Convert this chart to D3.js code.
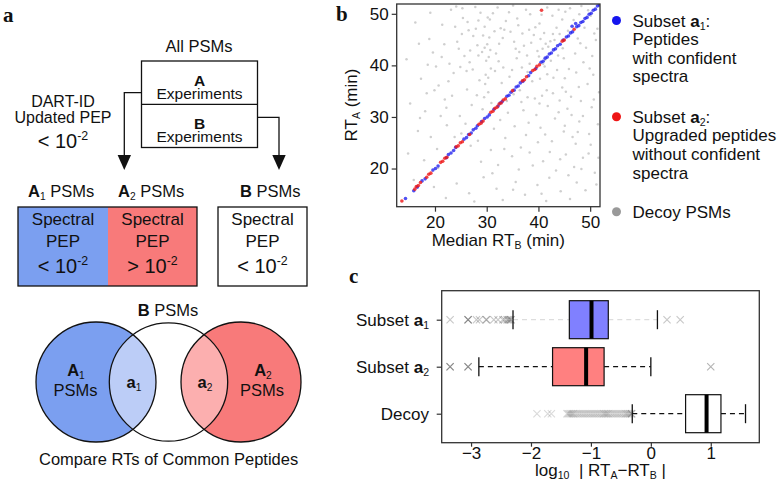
<!DOCTYPE html>
<html><head><meta charset="utf-8">
<script src="https://cdn.jsdelivr.net/npm/d3@7"></script>
<style>
body{margin:0;background:#fff}
svg{display:block}
text{font-family:"Liberation Sans",Arial,Helvetica,sans-serif;fill:#111;white-space:pre}
</style>
</head><body>
<svg id="chart" width="784" height="498"></svg>
<script>
// ---------------- DATA ----------------
// Panel b: scatter RT_A vs median RT_B (minutes)
const bDomain = [12.6, 51.9];
const bTicks = [20, 30, 40, 50];
const decoyPoints = [
 [23.1,50.8],[25.4,49.2],[27.8,51.3],[29.6,47.5],[31.2,50.1],[33.7,48.6],[35.1,51.6],[36.9,46.2],[38.4,49.9],[40.2,48.1],[41.7,51.2],[43.5,47.3],[45.2,50.4],[46.8,48.8],[48.3,51.5],[50.1,49.6],[51.4,47.1],
 [16.2,48.3],[18.9,45.1],[21.4,47.9],[24.3,44.6],[26.5,46.8],[28.2,43.9],[30.5,45.4],[32.4,44.2],[34.6,46.5],[37.2,43.8],[39.1,45.9],[42.3,44.7],[44.1,46.1],[47.6,45.2],[49.2,43.4],[51.1,44.9],
 [14.5,41.2],[19.6,42.5],[22.8,40.3],[25.7,41.8],[27.3,39.2],[29.9,40.9],[31.8,42.3],[33.2,39.6],[35.8,41.4],[37.9,38.7],[41.2,39.8],[43.8,41.9],[45.9,39.3],[48.7,40.6],[50.6,38.2],
 [17.3,37.4],[20.7,36.1],[23.6,38.5],[26.2,35.3],[28.6,37.1],[30.3,34.8],[32.9,36.6],[36.4,35.2],[38.8,36.9],[40.7,34.1],[42.9,37.6],[44.6,35.7],[46.3,33.9],[49.5,36.4],[51.7,34.8],
 [15.2,32.6],[18.1,31.1],[21.9,33.4],[24.8,30.2],[27.1,32.3],[29.2,31.5],[34.1,30.8],[36.7,32.9],[39.6,30.4],[41.8,32.1],[43.2,29.7],[45.6,31.6],[47.9,29.1],[50.3,31.9],
 [16.7,27.3],[19.2,26.1],[22.3,28.4],[25.1,26.8],[26.9,24.4],[31.4,27.7],[33.6,25.9],[35.4,28.2],[37.6,26.5],[40.4,27.9],[42.6,25.3],[44.9,27.2],[47.2,24.8],[49.8,26.7],[51.5,28.6],
 [14.8,22.9],[17.9,21.6],[20.4,23.8],[28.9,21.3],[30.8,23.6],[32.2,20.7],[34.9,22.4],[36.2,19.8],[38.3,23.1],[40.9,21.4],[43.4,19.6],[45.3,22.7],[46.9,20.3],[48.6,22.1],[50.9,19.2],
 [15.9,17.8],[19.8,16.4],[24.2,17.1],[26.6,15.2],[29.4,18.3],[31.9,16.1],[35.6,17.4],[37.4,14.9],[39.8,16.8],[42.1,18.2],[44.3,15.6],[47.4,17.3],[49.1,15.8],[51.2,16.9],
 [22.1,14.3],[27.6,13.6],[33.1,13.9],[41.5,13.7],[46.1,14.1],
 [30.1,44.1],[30.4,41.6],[29.8,38.2],[41.1,46.3],[40.8,43.2],[41.3,41.1],[36.1,47.8],[38.6,44.4],[28.4,48.7],[34.3,50.3],[43.9,50.8],[47.1,42.3],[45.1,37.5],
 [24.6,43.2],[26.1,38.9],[23.3,34.1],[25.9,28.7],[33.9,33.1],[37.1,31.3],[39.3,33.6],[44.1,33.2],[48.2,33.1],[20.2,39.8],[21.1,30.2],[18.4,34.6],[46.6,26.1],[42.2,23.2],[38.9,20.6],
 [30.6,48.9],[29.7,36.4],[30.9,32.7],[40.3,37.4],[41.6,35.2],[39.9,25.1],[25.3,51.1],[21.8,44.1],[35.3,44.6],[37.8,41.9],[42.7,49.6],[48.9,47.3],[44.7,43.3],[46.4,30.4],[50.4,41.8],
 [32.7,47.2],[27.4,45.7],[23.9,47.5],[19.1,50.2],[36.8,39.6],[34.4,37.8],[28.1,34.2],[31.6,38.9],[26.8,42.9],[22.6,36.9],[43.6,39.1],[38.1,28.9],[32.6,29.4],[49.7,22.9],[45.8,18.7],
 [24.1,51.4],[26.3,48.4],[28.8,50.2],[30.2,49.3],[32.1,51.2],[33.4,46.9],[35.9,49.1],[37.6,50.8],[39.4,47.4],[40.6,49.8],[42.8,46.1],[44.6,48.9],[46.1,51.1],[47.9,49.9],[49.6,50.7],
 [25.2,46.1],[27.9,47.1],[29.3,45.8],[31.5,46.6],[33.1,45.3],[35.6,43.2],[38.2,46.9],[39.8,42.8],[41.9,43.6],[43.1,44.9],[45.7,46.7],[48.1,44.3],[50.8,46.2],
 [24.9,39.7],[26.7,40.6],[28.4,41.9],[30.8,39.4],[32.3,40.8],[34.9,39.1],[36.3,42.6],[38.3,40.3],[40.1,41.7],[42.4,40.9],[44.9,41.4],[47.3,38.6],[49.9,39.4],
 [29.1,42.6],[29.6,43.4],[30.7,43.0],[40.4,45.1],[41.4,44.2],[40.9,40.3],[30.3,37.6],[41.7,38.3],[29.5,33.8],[40.2,32.6],
 [35.2,34.4],[37.9,33.8],[42.8,34.6],[45.3,34.9],[47.8,35.8],[50.7,33.4],[43.9,30.9],[48.6,30.2],[45.1,28.3],[47.6,27.1],[50.1,24.6],[44.2,21.8],[41.3,26.6],[36.6,24.1],
 [18.6,40.1],[16.9,44.2],[21.3,41.6],[19.9,35.2],[22.2,31.8],[17.1,29.8],[23.8,26.1],[20.6,20.1],[28.3,25.4],[33.4,23.8],[31.1,19.1],[35.1,15.9],[40.6,15.1],[48.3,19.9],[51.6,22.1]
];
const a1Points = [
 [14.3,14.2],[15.9,15.7],[16.6,16.4],[17.5,17.6],[18.1,18.0],[19.6,19.7],[20.1,20.0],[20.6,20.5],[22.6,22.7],[23.1,23.0],[23.6,23.5],[24.0,24.1],
 [25.6,25.7],[26.1,26.0],[26.5,26.6],[27.0,26.9],[27.4,27.5],[27.9,27.8],[28.2,28.3],[29.6,29.7],[30.1,30.0],[30.5,30.4],[31.4,31.5],[32.2,32.1],
 [33.0,33.0],[33.9,34.0],[34.3,34.2],[34.7,34.8],[35.3,35.2],[35.7,35.8],[36.1,36.0],[36.5,36.6],[38.1,38.0],[38.5,38.6],[40.5,40.6],[40.9,40.8],
 [41.3,41.4],[41.7,41.6],[42.1,42.2],[42.5,42.4],[42.9,43.0],[43.3,43.2],[43.7,43.8],[44.2,44.1],[45.4,45.5],[45.8,45.7],[46.2,46.3],[46.6,46.5],
 [47.4,47.5],[47.8,47.7],[48.2,48.3],[48.6,48.5],[49.0,49.1],[49.4,49.3],[49.8,49.9],[50.2,50.1],[50.6,50.7],[51.0,50.9],[51.4,51.5],[51.8,51.7],
 [47.2,48.1],[46.5,47.6],[22.2,22.1],[29.0,29.1],[37.0,36.9],[39.5,39.4],[44.8,44.9],[32.6,32.7]
];
const a2Points = [
 [13.6,13.7],[16.1,16.0],[16.4,16.5],[16.8,16.7],[17.2,17.3],[18.4,18.3],[18.8,18.9],[19.2,19.1],[21.1,21.2],[21.5,21.4],[21.9,22.0],[22.3,22.2],
 [24.1,24.2],[24.5,24.4],[24.9,25.0],[25.3,25.2],[28.5,28.6],[28.9,28.8],[29.3,29.2],[30.8,30.9],[31.2,31.1],[31.6,31.7],[32.0,31.9],[32.4,32.5],
 [32.8,32.7],[33.2,33.3],[33.6,33.5],[36.9,37.0],[37.3,37.2],[37.7,37.8],[38.9,39.0],[39.3,39.2],[39.7,39.8],[40.2,40.1],[44.6,44.7],[45.0,44.9],
 [46.9,47.0],[40.6,50.7],[26.7,26.6],[35.0,35.1]
];

// Panel c: log10 |RT_A - RT_B| box plots
const cCategories = ["a1", "a2", "decoy"];
const cDomain = [-3.49, 1.81];
const cTicks = [-3, -2, -1, 0, 1];
const boxQ1 = [-1.36, -1.64, 0.58];
const boxMedian = [-0.99, -1.08, 0.93];
const boxQ3 = [-0.71, -0.78, 1.17];
const whiskerLow = [-2.30, -2.87, -0.31];
const whiskerHigh = [0.11, 0.00, 1.58];
const outliersA1 = [-3.35,-3.05,-3.05,-3.05,-2.91,-2.86,-2.75,-2.74,-2.62,-2.55,-2.47,-2.44,-2.40,-2.38,-2.36,-2.34,-2.33,0.27,0.49];
const outliersA2 = [-3.35,-3.35,-3.05,-3.05,1.00];
const outliersDecoy = [-1.90,-1.72,-1.66,-1.40,-1.38,-1.36,-1.34,-1.32,-1.30,-1.28,-1.25,-1.22,-1.19,-1.16,-1.13,-1.10,-1.07,-1.04,-1.01,
 -0.98,-0.95,-0.92,-0.89,-0.86,-0.83,-0.80,-0.78,-0.76,-0.74,-0.72,-0.70,-0.67,-0.64,-0.61,-0.58,-0.55,-0.52,-0.49,-0.46,-0.43,-0.41,-0.39,-0.37,-0.35,-0.33,-0.32,-0.32];

// ---------------- HELPERS ----------------
const svg = d3.select("#chart");
const FONT = '"Liberation Sans",Arial,Helvetica,sans-serif';

function rich(g, x, y, segs, size, anchor) {
  const t = g.append("text").attr("x", x).attr("y", y)
    .attr("text-anchor", anchor || "start").style("font-size", size + "px");
  let shift = 0;
  segs.forEach(s => {
    const sp = t.append("tspan").text(s.t);
    let target = 0, fs = size;
    if (s.sub) { target = size * 0.2; fs = size * 0.62; }
    if (s.sup) { target = -size * 0.38; fs = size * 0.62; }
    sp.attr("dy", target - shift); shift = target;
    sp.style("font-size", fs + "px");
    if (s.b) sp.style("font-weight", "bold");
  });
  return t;
}
function panelLabel(txt, x, y) {
  svg.append("text").attr("x", x).attr("y", y).text(txt)
    .style("font-family", '"Liberation Serif","Times New Roman",serif')
    .style("font-weight", "bold").style("font-size", "21px");
}

// ---------------- PANEL A (diagram) ----------------
const blueA = "#7b9ff0", redA = "#f87a7a", blueLens = "#bccdf7", redLens = "#fcafaf";
const A = svg.append("g");
panelLabel("a", 3, 22);
rich(A, 199, 52, [{t: "All PSMs"}], 16.5, "middle");
A.append("rect").attr("x", 141.5).attr("y", 61).attr("width", 116).attr("height", 86.5)
  .attr("fill", "none").attr("stroke", "#111").attr("stroke-width", 1.3);
A.append("line").attr("x1", 141.5).attr("x2", 257.5).attr("y1", 104.3).attr("y2", 104.3)
  .attr("stroke", "#111").attr("stroke-width", 1.3);
rich(A, 199.5, 85.5, [{t: "A", b: true}], 15.5, "middle");
rich(A, 199.5, 99, [{t: "Experiments"}], 15.5, "middle");
rich(A, 199.5, 128.5, [{t: "B", b: true}], 15.5, "middle");
rich(A, 199.5, 142, [{t: "Experiments"}], 15.5, "middle");
// arrows
A.append("path").attr("d", "M141.5,92.7H124.3V156").attr("fill", "none").attr("stroke", "#111").attr("stroke-width", 1.3);
A.append("path").attr("d", "M117.6,155L131,155L124.3,170Z").attr("fill", "#111");
A.append("path").attr("d", "M257.5,117.3H279V156").attr("fill", "none").attr("stroke", "#111").attr("stroke-width", 1.3);
A.append("path").attr("d", "M272.3,155L285.7,155L279,170Z").attr("fill", "#111");
rich(A, 63, 106.5, [{t: "DART-ID"}], 16, "middle");
rich(A, 63, 123.3, [{t: "Updated PEP"}], 16, "middle");
rich(A, 63, 148, [{t: "< 10"}, {t: "-2", sup: true}], 20, "middle");
// category labels
rich(A, 28, 196.5, [{t: "A", b: true}, {t: "1", sub: true}, {t: " PSMs"}], 16.5);
rich(A, 118, 196.5, [{t: "A", b: true}, {t: "2", sub: true}, {t: " PSMs"}], 16.5);
rich(A, 240, 196.5, [{t: "B", b: true}, {t: " PSMs"}], 16.5);
// PEP boxes
A.append("rect").attr("x", 18).attr("y", 207).attr("width", 90).attr("height", 79).attr("fill", blueA);
A.append("rect").attr("x", 108).attr("y", 207).attr("width", 89).attr("height", 79).attr("fill", redA);
A.append("rect").attr("x", 18).attr("y", 207).attr("width", 179).attr("height", 79)
  .attr("fill", "none").attr("stroke", "#111").attr("stroke-width", 1.3);
A.append("rect").attr("x", 218).attr("y", 207).attr("width", 89).attr("height", 79)
  .attr("fill", "none").attr("stroke", "#111").attr("stroke-width", 1.3);
[[63, "< 10"], [152.5, "> 10"], [262.5, "< 10"]].forEach(([cx, s]) => {
  rich(A, cx, 225, [{t: "Spectral"}], 17, "middle");
  rich(A, cx, 247, [{t: "PEP"}], 17, "middle");
  rich(A, cx, 273, [{t: s}, {t: "-2", sup: true}], 20, "middle");
});
// Venn
const vy = 382, vr = 60;
const defs = svg.append("defs");
defs.append("clipPath").attr("id", "clipBlue").append("circle").attr("cx", 96).attr("cy", vy).attr("r", vr);
defs.append("clipPath").attr("id", "clipRed").append("circle").attr("cx", 241).attr("cy", vy).attr("r", vr);
A.append("circle").attr("cx", 96).attr("cy", vy).attr("r", vr).attr("fill", blueA);
A.append("circle").attr("cx", 241).attr("cy", vy).attr("r", vr).attr("fill", redA);
A.append("circle").attr("cx", 168.5).attr("cy", vy).attr("r", 59.2).attr("fill", "#fff");
A.append("circle").attr("cx", 168.5).attr("cy", vy).attr("r", 59.2).attr("fill", blueLens).attr("clip-path", "url(#clipBlue)");
A.append("circle").attr("cx", 168.5).attr("cy", vy).attr("r", 59.2).attr("fill", redLens).attr("clip-path", "url(#clipRed)");
[[96, vr], [168.5, 59.2], [241, vr]].forEach(([cx, r]) => {
  A.append("circle").attr("cx", cx).attr("cy", vy).attr("r", r).attr("fill", "none").attr("stroke", "#111").attr("stroke-width", 1.3);
});
rich(A, 168, 316, [{t: "B", b: true}, {t: " PSMs"}], 16.5, "middle");
rich(A, 76, 376, [{t: "A", b: true}, {t: "1", sub: true}], 16.5, "middle");
rich(A, 75.5, 395.5, [{t: "PSMs"}], 16.5, "middle");
rich(A, 134, 388, [{t: "a", b: true}, {t: "1", sub: true}], 16.5, "middle");
rich(A, 205, 388, [{t: "a", b: true}, {t: "2", sub: true}], 16.5, "middle");
rich(A, 263, 376, [{t: "A", b: true}, {t: "2", sub: true}], 16.5, "middle");
rich(A, 262, 395.5, [{t: "PSMs"}], 16.5, "middle");
rich(A, 39, 465, [{t: "Compare RTs of Common Peptides"}], 16.5);

// ---------------- PANEL B (scatter) ----------------
panelLabel("b", 336, 21);
const bx = d3.scaleLinear().domain(bDomain).range([396.7, 600]);
const by = d3.scaleLinear().domain(bDomain).range([206.7, 4]);
const B = svg.append("g");
defs.append("clipPath").attr("id", "clipB").append("rect")
  .attr("x", 396.7).attr("y", 4).attr("width", 203.3).attr("height", 202.7);
const pts = B.append("g").attr("clip-path", "url(#clipB)");
pts.selectAll("circle.decoy").data(decoyPoints).join("circle").attr("class", "decoy")
  .attr("cx", d => bx(d[0])).attr("cy", d => by(d[1])).attr("r", 1.25)
  .attr("fill", "#888").attr("fill-opacity", 0.4);
pts.selectAll("circle.a1").data(a1Points).join("circle").attr("class", "a1")
  .attr("cx", d => bx(d[0])).attr("cy", d => by(d[1])).attr("r", 1.8)
  .attr("fill", "#1515ee").attr("fill-opacity", 0.75);
pts.selectAll("circle.a2").data(a2Points).join("circle").attr("class", "a2")
  .attr("cx", d => bx(d[0])).attr("cy", d => by(d[1])).attr("r", 1.8)
  .attr("fill", "#ee1515").attr("fill-opacity", 0.8);
B.append("rect").attr("x", 396.7).attr("y", 4).attr("width", 203.3).attr("height", 202.7)
  .attr("fill", "none").attr("stroke", "#333").attr("stroke-width", 1.3);
const bxAxis = B.append("g").attr("transform", "translate(0,206.7)")
  .call(d3.axisBottom(bx).tickValues(bTicks).tickSize(5).tickPadding(4));
const byAxis = B.append("g").attr("transform", "translate(396.7,0)")
  .call(d3.axisLeft(by).tickValues(bTicks).tickSize(5).tickPadding(3));
[bxAxis, byAxis].forEach(ax => {
  ax.select(".domain").remove();
  ax.selectAll("line").attr("stroke", "#333").attr("stroke-width", 1.2);
  ax.selectAll("text").style("font-size", "17px").style("font-family", FONT).attr("fill", "#111");
});
rich(B, 498.3, 246, [{t: "Median RT"}, {t: "B", sub: true}, {t: " (min)"}], 17, "middle");
rich(B, 0, 0, [{t: "RT"}, {t: "A", sub: true}, {t: " (min)"}], 17, "middle")
  .attr("transform", "translate(357,105) rotate(-90)");
// legend
const legend = [
  {color: "#1515ee", y: 20.5, lines: [[{t: "Subset "}, {t: "a", b: true}, {t: "1", sub: true}, {t: ":"}], [{t: "Peptides"}], [{t: "with confident"}], [{t: "spectra"}]]},
  {color: "#ee1515", y: 116.7, lines: [[{t: "Subset "}, {t: "a", b: true}, {t: "2", sub: true}, {t: ":"}], [{t: "Upgraded peptides"}], [{t: "without confident"}], [{t: "spectra"}]]},
  {color: "#999999", y: 211.7, lines: [[{t: "Decoy PSMs"}]]}
];
legend.forEach(it => {
  B.append("circle").attr("cx", 616.5).attr("cy", it.y).attr("r", 4.5).attr("fill", it.color);
  it.lines.forEach((ln, i) => rich(B, 632.5, it.y + 6 + i * 18.6, ln, 17));
});

// ---------------- PANEL C (box plots) ----------------
panelLabel("c", 349, 283);
const cx = d3.scaleLinear().domain(cDomain).range([441.7, 759.3]);
const cy = d3.scalePoint().domain(cCategories).range([290.7, 442.7]).padding(0.617);
const C = svg.append("g");
const boxH = 38, capH = 9.5;
const fills = ["#8080ff", "#ff8080", "#ffffff"];
const whiskColors = ["#dddddd", "#111", "#111"];
const outliers = [outliersA1, outliersA2, outliersDecoy];
const outOpacity = [0.3, 0.4, 0.2];
cCategories.forEach((c, i) => {
  const y0 = cy(c);
  C.append("g").selectAll("path").data(outliers[i]).join("path")
    .attr("d", v => { const x = cx(v), s = 3.6; return `M${x - s},${y0 - s}L${x + s},${y0 + s}M${x - s},${y0 + s}L${x + s},${y0 - s}`; })
    .attr("stroke", "#444").attr("stroke-opacity", outOpacity[i]).attr("stroke-width", 1.1).attr("fill", "none");
  C.append("line").attr("x1", cx(whiskerLow[i])).attr("x2", cx(boxQ1[i])).attr("y1", y0).attr("y2", y0)
    .attr("stroke", whiskColors[i]).attr("stroke-width", 1.3).attr("stroke-dasharray", "5,4");
  C.append("line").attr("x1", cx(boxQ3[i])).attr("x2", cx(whiskerHigh[i])).attr("y1", y0).attr("y2", y0)
    .attr("stroke", whiskColors[i]).attr("stroke-width", 1.3).attr("stroke-dasharray", "5,4");
  [whiskerLow[i], whiskerHigh[i]].forEach(v => {
    C.append("line").attr("x1", cx(v)).attr("x2", cx(v)).attr("y1", y0 - capH).attr("y2", y0 + capH)
      .attr("stroke", "#111").attr("stroke-width", 1.3);
  });
  C.append("rect").attr("x", cx(boxQ1[i])).attr("y", y0 - boxH / 2)
    .attr("width", cx(boxQ3[i]) - cx(boxQ1[i])).attr("height", boxH)
    .attr("fill", fills[i]).attr("stroke", "#111").attr("stroke-width", 1.2);
  C.append("line").attr("x1", cx(boxMedian[i])).attr("x2", cx(boxMedian[i]))
    .attr("y1", y0 - boxH / 2).attr("y2", y0 + boxH / 2).attr("stroke", "#000").attr("stroke-width", 4);
});
C.append("rect").attr("x", 441.7).attr("y", 290.7).attr("width", 317.6).attr("height", 152)
  .attr("fill", "none").attr("stroke", "#333").attr("stroke-width", 1.3);
const cxAxis = C.append("g").attr("transform", "translate(0,442.7)")
  .call(d3.axisBottom(cx).tickValues(cTicks).tickFormat(d3.format(".0f")).tickSize(4).tickPadding(0));
const cyAxis = C.append("g").attr("transform", "translate(441.7,0)")
  .call(d3.axisLeft(cy).tickSize(5).tickFormat(""));
[cxAxis, cyAxis].forEach(ax => {
  ax.select(".domain").remove();
  ax.selectAll("line").attr("stroke", "#333").attr("stroke-width", 1.2);
  ax.selectAll("text").style("font-size", "17px").style("font-family", FONT).attr("fill", "#111");
});
const catLabels = {
  a1: [{t: "Subset "}, {t: "a", b: true}, {t: "1", sub: true}],
  a2: [{t: "Subset "}, {t: "a", b: true}, {t: "2", sub: true}],
  decoy: [{t: "Decoy"}]
};
cCategories.forEach(c => rich(C, 429, cy(c) + 6, catLabels[c], 17, "end"));
rich(C, 600.5, 476, [{t: "log"}, {t: "10", sub: true}, {t: "  | RT"}, {t: "A", sub: true}, {t: "\u2212RT"}, {t: "B", sub: true}, {t: " |"}], 17, "middle");
</script>
</body></html>
